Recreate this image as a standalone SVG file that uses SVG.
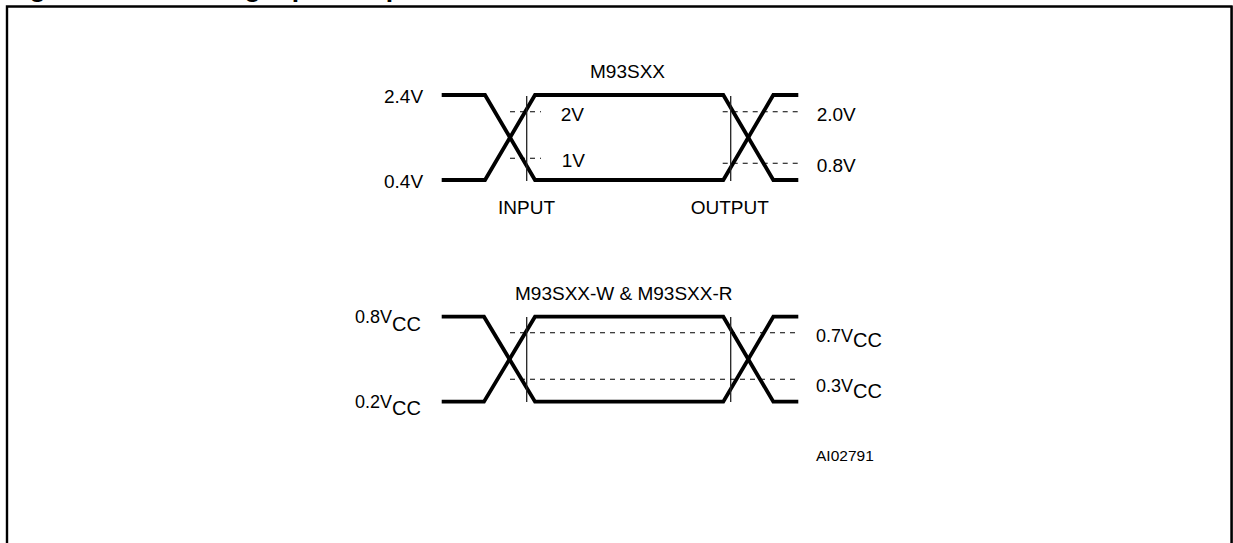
<svg xmlns="http://www.w3.org/2000/svg" width="1233" height="543" viewBox="0 0 1233 543">
<style>
text{font-family:"Liberation Sans",Arial,sans-serif;fill:#000}
.lbl{font-size:19px}
.sub{font-size:20px}
.sm{font-size:18px}
.wave{fill:none;stroke:#000;stroke-width:3.8;stroke-linejoin:miter}
.ref{stroke:#222;stroke-width:1.3;fill:none}
.dash{stroke:#000;stroke-width:1.1;stroke-dasharray:5 5;fill:none}
</style>
<rect width="1233" height="543" fill="#fff"/>
<text x="6" y="-3" style="font-size:26.5px;font-weight:bold">Figure 4. AC Testing Input Output Waveforms</text>
<path d="M7,543 V6.5 H1231.5 V543" fill="none" stroke="#000" stroke-width="2.4"/>
<line x1="1231.8" y1="6" x2="1231.8" y2="543" stroke="#000" stroke-width="1.5"/>

<g id="connectors">
<g id="upper-waves">
<path class="wave" d="M441.7,95 H485 L535,180 H723.3 L773.3,95 H798.3"/>
<path class="wave" d="M441.7,180 H485 L535,95 H723.3 L773.3,180 H798.3"/>
<line class="ref" x1="526.7" y1="96" x2="526.7" y2="181"/>
<line class="ref" x1="730.7" y1="96" x2="730.7" y2="181"/>
<line class="dash" x1="510" y1="111.7" x2="541" y2="111.7"/>
<line class="dash" x1="510" y1="158.3" x2="541" y2="158.3"/>
<line class="dash" x1="722.7" y1="111.7" x2="799.3" y2="111.7"/>
<line class="dash" x1="722.7" y1="163.3" x2="799.3" y2="163.3"/>
</g>
<g id="lower-waves">
<path class="wave" d="M441.7,316.7 H484 L535,401.7 H723.3 L773.3,316.7 H798.3"/>
<path class="wave" d="M441.7,401.7 H484 L535,316.7 H723.3 L773.3,401.7 H798.3"/>
<line class="ref" x1="526.7" y1="317" x2="526.7" y2="402"/>
<line class="ref" x1="730.7" y1="317" x2="730.7" y2="402"/>
<line class="dash" x1="510" y1="332.7" x2="799.3" y2="332.7"/>
<line class="dash" x1="510" y1="379.3" x2="799.3" y2="379.3"/>
</g>
</g>

<g id="upper-labels">
<text class="lbl" x="590" y="78.3">M93SXX</text>
<text class="lbl" x="384" y="103.3">2.4V</text>
<text class="lbl" x="384" y="188.3">0.4V</text>
<text class="lbl" x="560.7" y="120.7">2V</text>
<text class="lbl" x="561.7" y="167.3">1V</text>
<text class="lbl" x="816.7" y="120.7">2.0V</text>
<text class="lbl" x="816.7" y="171.7">0.8V</text>
<text class="lbl" x="498" y="214">INPUT</text>
<text class="lbl" x="690.7" y="214">OUTPUT</text>
</g>

<g id="lower-labels">
<text class="lbl" x="515" y="300">M93SXX-W &amp; M93SXX-R</text>
<text x="355" y="323.3"><tspan class="sm">0.8V</tspan><tspan class="sub" dy="7.7">CC</tspan></text>
<text x="355" y="408.3"><tspan class="sm">0.2V</tspan><tspan class="sub" dy="6.7">CC</tspan></text>
<text x="816" y="341.7"><tspan class="sm">0.7V</tspan><tspan class="sub" dy="5.6">CC</tspan></text>
<text x="816" y="391.7"><tspan class="sm">0.3V</tspan><tspan class="sub" dy="6.6">CC</tspan></text>
</g>

<g id="ref-code">
<text x="816" y="460.7" style="font-size:15.5px">AI02791</text>
</g>
</svg>
